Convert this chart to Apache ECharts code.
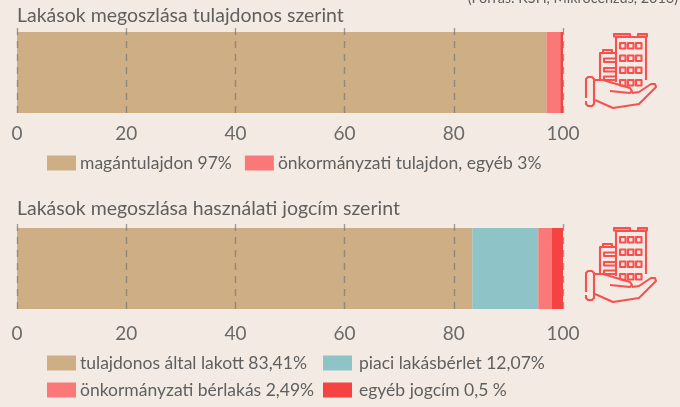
<!DOCTYPE html>
<html><head><meta charset="utf-8">
<style>html,body{margin:0;padding:0;background:#F3EBE3}#c{width:680px;height:407px}</style>
<script src="https://cdn.jsdelivr.net/npm/echarts@6/dist/echarts.min.js"></script>
</head><body><div id="c"></div>
<script>
const titleTop = "Lakások megoszlása tulajdonos szerint";
const titleBottom = "Lakások megoszlása használati jogcím szerint";
const sourceNote = "(Forrás: KSH, Mikrocenzus, 2016)";
const namesTop = ["magántulajdon 97%", "önkormányzati tulajdon, egyéb 3%", "egyéb"];
const valuesTop = [97, 2.5, 0.5];
const namesBottom = ["tulajdonos által lakott 83,41%", "piaci lakásbérlet 12,07%", "önkormányzati bérlakás 2,49%", "egyéb jogcím 0,5 %"];
const valuesBottom = [83.41, 12.07, 2.49, 2.03];
const colorsTop = ["#CEAE85", "#FB7878", "#F54242"];
const colorsBottom = ["#CEAE85", "#8EC3C8", "#FB7878", "#F54242"];

const font = "Lato";
const textColor = "#5f5f5f";
const bg = "#F3EBE3";
const red = "#F75050";

function bars(names, values, colors, idx) {
  return names.map((n, i) => ({
    name: n, type: "bar", stack: "s" + idx, xAxisIndex: idx, yAxisIndex: idx,
    barWidth: 81, data: [values[i]],
    itemStyle: { color: colors[i], borderWidth: 0 }
  }));
}
function xAxis(idx, margin) {
  return {
    type: "value", gridIndex: idx, min: 0, max: 100, interval: 20, z: 5,
    axisLine: { show: false }, axisTick: { show: false },
    axisLabel: { color: "#6a6a6a", fontFamily: font, fontSize: 19, margin: margin,
      formatter: v => String(v) },
    splitLine: { show: true, lineStyle: { color: "rgba(120,120,120,0.7)", width: 1.4, type: [7, 6] } }
  };
}
function yAxis(idx) {
  return { type: "category", gridIndex: idx, data: [""], axisLine: { show: false }, axisTick: { show: false }, axisLabel: { show: false } };
}
function legend(data, left, top, pad) {
  return {
    data: data, left: left, top: top, orient: "vertical", itemWidth: 29, itemHeight: 15, itemGap: 9,
    padding: 0, icon: "rect", selectedMode: false,
    textStyle: { color: textColor, fontFamily: font, fontSize: 17.5, padding: [0, 0, 0, pad] }
  };
}
function legendH(data, left, top) {
  const l = legend(data, left, top, -1);
  l.orient = "horizontal"; l.itemGap = 13;
  return l;
}
function icon(dx, dy) {
  const s = { stroke: red, fill: "none", lineWidth: 2.1, lineJoin: "round" };
  const kids = [];
  const rect = (x, y, w, h, r) => kids.push({ type: "rect", shape: { x, y, width: w, height: h, r: r || 0 }, style: s });
  const line = (pts) => kids.push({ type: "polyline", shape: { points: pts }, style: s });
  line([[36, 62], [36, 17], [66, 17], [66, 60]]);
  rect(34, 14, 16, 2.5); rect(58, 14, 9, 2.5);
  [40, 48, 56].forEach(x => [23, 35.5, 47.5, 60].forEach(y => rect(x, y, 5.5, 5.5)));
  line([[36, 33], [20, 33], [20, 60]]);
  line([[23, 33], [23, 30], [32, 30], [32, 33]]);
  [38.5, 48, 56.5].forEach(y => { line([[36, y], [24, y], [24, y + 3.5], [36, y + 3.5]]); });
  kids.push({ type: "polyline", shape: { points: [[6, 78], [6, 59], [8, 57], [12, 57], [14, 59], [14, 84], [12, 86], [8, 86], [6, 84], [6, 81]] }, style: s });
  line([[14, 60], [23, 60], [33, 63], [50, 68], [52, 71], [50, 73], [30, 71]]);
  line([[52, 73], [59, 72], [71, 64], [75, 64], [76, 67], [59, 84], [33, 88], [15, 80]]);
  return { type: "group", x: dx, y: dy, silent: true, children: kids };
}

const chart = echarts.init(document.getElementById("c"), null, { renderer: "canvas" });
chart.setOption({
  backgroundColor: bg,
  animation: false,
  title: [
    { text: titleTop, left: 17, top: 6, padding: 0, textStyle: { color: textColor, fontFamily: font, fontSize: 19.5, fontWeight: "normal" } },
    { text: titleBottom, left: 17, top: 199, padding: 0, textStyle: { color: textColor, fontFamily: font, fontSize: 19.5, fontWeight: "normal" } },
    { text: sourceNote, right: 2, top: -9, padding: 0, textStyle: { color: textColor, fontFamily: font, fontSize: 14.4, fontWeight: "normal" } }
  ],
  grid: [
    { left: 17, width: 546, top: 28, height: 89 },
    { left: 17, width: 546, top: 224, height: 89 }
  ],
  xAxis: [xAxis(0, 7), xAxis(1, 11)],
  yAxis: [yAxis(0), yAxis(1)],
  legend: [
    legendH(namesTop.slice(0, 2), 47, 154),
    legend([namesBottom[0], namesBottom[2]], 47, 354, -1),
    legend([namesBottom[1], namesBottom[3]], 323, 354, 2)
  ],
  series: [...bars(namesTop, valuesTop, colorsTop, 0), ...bars(namesBottom, valuesBottom, colorsBottom, 1)],
  graphic: [icon(580, 20), icon(580, 214)]
});
</script></body></html>
